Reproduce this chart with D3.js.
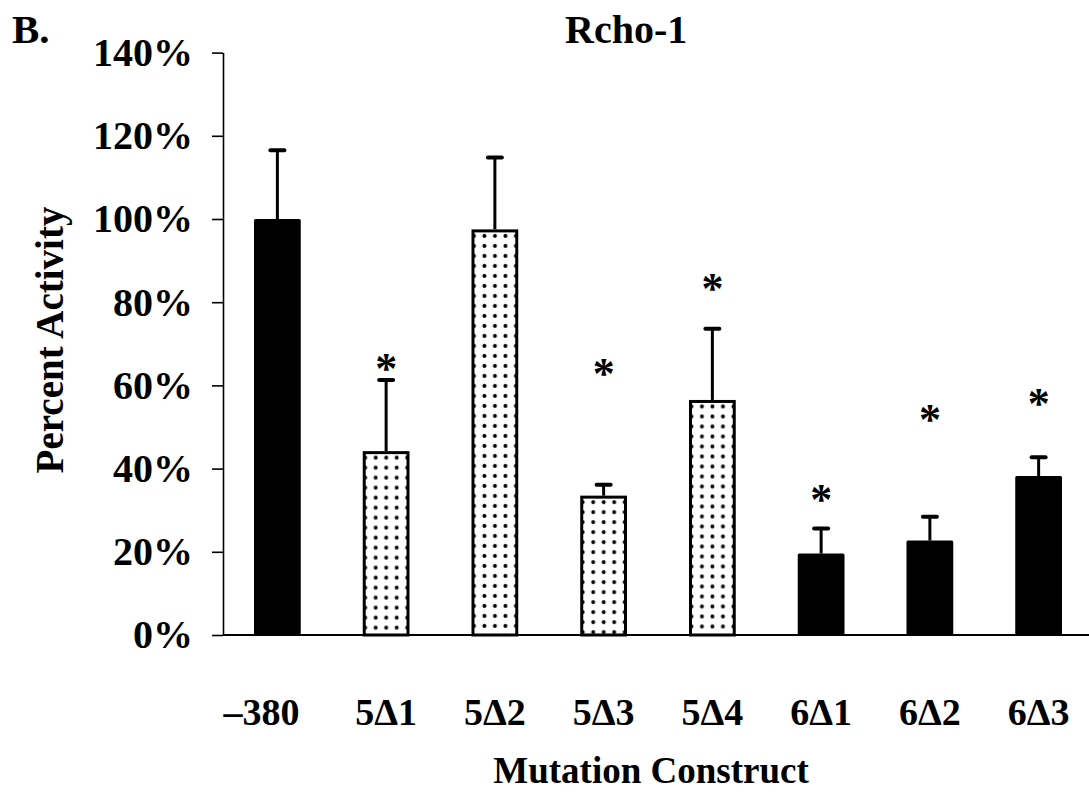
<!DOCTYPE html>
<html>
<head>
<meta charset="utf-8">
<script src="https://cdn.jsdelivr.net/npm/d3@7"></script>
<style>
  html, body { margin: 0; padding: 0; background: #fff; }
  svg { display: block; }
  text { font-family: "Liberation Serif", "Times New Roman", serif; font-weight: bold; fill: #000; }
</style>
</head>
<body>
<svg id="chart" width="1089" height="796"></svg>
<script>
// Promoter deletion constructs and their relative reporter activity (% of -380)
const categories = ["\u2013380", "5\u03941", "5\u03942", "5\u03943", "5\u03944", "6\u03941", "6\u03942", "6\u03943"];
const activity   = [100, 44.2, 97.5, 33.5, 56.5, 19.6, 22.7, 38.2];
const errorUpper = [16.5, 17.1, 17.3, 2.6, 17.1, 6.0, 5.7, 4.5];
const fillStyle  = ["solid", "dots", "dots", "dots", "dots", "solid", "solid", "solid"];
// significance asterisks, placed at these activity levels (null = none)
const sigLevel   = [null, 65.7, null, 64.4, 84.8, 34.2, 53.4, 57.3];
const yTicks     = [0, 20, 40, 60, 80, 100, 120, 140];

const svg = d3.select("#chart");

const x = d3.scaleBand()
  .domain(categories)
  .range([223, 1093])
  .paddingInner(0.57)
  .paddingOuter(0.285);

const y = d3.scaleLinear()
  .domain([0, 140])
  .range([635, 52.6]);

const defs = svg.append("defs");

const bars = categories.map((c, i) => ({
  cat: c, v: activity[i], e: errorUpper[i], fill: fillStyle[i], sig: sigLevel[i], i
}));

// one dot pattern per stippled bar so the dots line up with its left edge
bars.filter(d => d.fill === "dots").forEach(d => {
  const p = defs.append("pattern")
    .attr("id", "dots-" + d.i)
    .attr("patternUnits", "userSpaceOnUse")
    .attr("x", x(d.cat) + 7.7)
    .attr("y", y(d.v) + 1.5)
    .attr("width", 10.5)
    .attr("height", 10);
  p.append("rect").attr("width", 10.5).attr("height", 10).attr("fill", "#fff");
  p.append("circle").attr("cx", 5.25).attr("cy", 5).attr("r", 2).attr("fill", "#000");
});

// y axis
const yAxis = d3.axisLeft(y)
  .tickValues(yTicks)
  .tickFormat(d => d + "%")
  .tickSizeInner(11)
  .tickSizeOuter(0)
  .tickPadding(19);

const gy = svg.append("g").attr("transform", "translate(223,0)").call(yAxis);
gy.select(".domain").attr("stroke", "#000").attr("stroke-width", 1.6);
gy.selectAll(".tick line").attr("stroke", "#000").attr("stroke-width", 1.6);
gy.selectAll(".tick text")
  .style("font-family", "'Liberation Serif', 'Times New Roman', serif")
  .style("font-weight", "bold")
  .style("font-size", "40px")
  .attr("fill", "#000");

// bars
const bw = x.bandwidth();
const gBars = svg.append("g");

gBars.selectAll("rect.solid")
  .data(bars.filter(d => d.fill === "solid"))
  .join("rect")
  .attr("class", "solid")
  .attr("x", d => x(d.cat))
  .attr("y", d => y(d.v))
  .attr("width", bw)
  .attr("height", d => y(0) - y(d.v))
  .attr("rx", 1.5)
  .attr("fill", "#000");

gBars.selectAll("rect.dots")
  .data(bars.filter(d => d.fill === "dots"))
  .join("rect")
  .attr("class", "dots")
  .attr("x", d => x(d.cat) + 1.5)
  .attr("y", d => y(d.v) + 1.5)
  .attr("width", bw - 3)
  .attr("height", d => y(0) - y(d.v) - 1.5)
  .attr("fill", d => "url(#dots-" + d.i + ")")
  .attr("stroke", "#000")
  .attr("stroke-width", 3);

// upper error bars
const gErr = svg.append("g").attr("stroke", "#000");
gErr.selectAll("line.stem")
  .data(bars)
  .join("line")
  .attr("class", "stem")
  .attr("x1", d => x(d.cat) + bw / 2)
  .attr("x2", d => x(d.cat) + bw / 2)
  .attr("y1", d => y(d.v))
  .attr("y2", d => y(d.v + d.e))
  .attr("stroke-width", 3);
gErr.selectAll("line.cap")
  .data(bars)
  .join("line")
  .attr("class", "cap")
  .attr("x1", d => x(d.cat) + bw / 2 - 7)
  .attr("x2", d => x(d.cat) + bw / 2 + 7)
  .attr("y1", d => y(d.v + d.e))
  .attr("y2", d => y(d.v + d.e))
  .attr("stroke-width", 4)
  .attr("stroke-linecap", "round");

// significance asterisks
svg.append("g").selectAll("text")
  .data(bars.filter(d => d.sig !== null))
  .join("text")
  .attr("x", d => x(d.cat) + bw / 2)
  .attr("y", d => y(d.sig) + 21)
  .attr("text-anchor", "middle")
  .style("font-size", "44px")
  .text("*");

// x axis baseline and category labels
svg.append("line")
  .attr("x1", 223).attr("x2", 1089)
  .attr("y1", y(0)).attr("y2", y(0))
  .attr("stroke", "#000").attr("stroke-width", 2);

const xAxis = d3.axisBottom(x).tickSizeInner(0).tickSizeOuter(0).tickPadding(63);
const gx = svg.append("g").attr("transform", `translate(0,${y(0)})`).call(xAxis);
gx.select(".domain").remove();
gx.selectAll(".tick text")
  .style("font-family", "'Liberation Serif', 'Times New Roman', serif")
  .style("font-weight", "bold")
  .style("font-size", "38px")
  .attr("fill", "#000")
  .attr("dx", (d, i) => i === 0 ? -16 : 0);

// titles
svg.append("text")
  .attr("x", 12).attr("y", 43)
  .style("font-size", "41px")
  .text("B.");

svg.append("text")
  .attr("x", 565).attr("y", 43)
  .style("font-size", "40px")
  .text("Rcho-1");

svg.append("text")
  .attr("x", 651).attr("y", 783)
  .attr("text-anchor", "middle")
  .style("font-size", "37px")
  .text("Mutation Construct");

svg.append("text")
  .attr("transform", "translate(63,340) rotate(-90)")
  .attr("text-anchor", "middle")
  .style("font-size", "39px")
  .text("Percent Activity");
</script>
</body>
</html>
